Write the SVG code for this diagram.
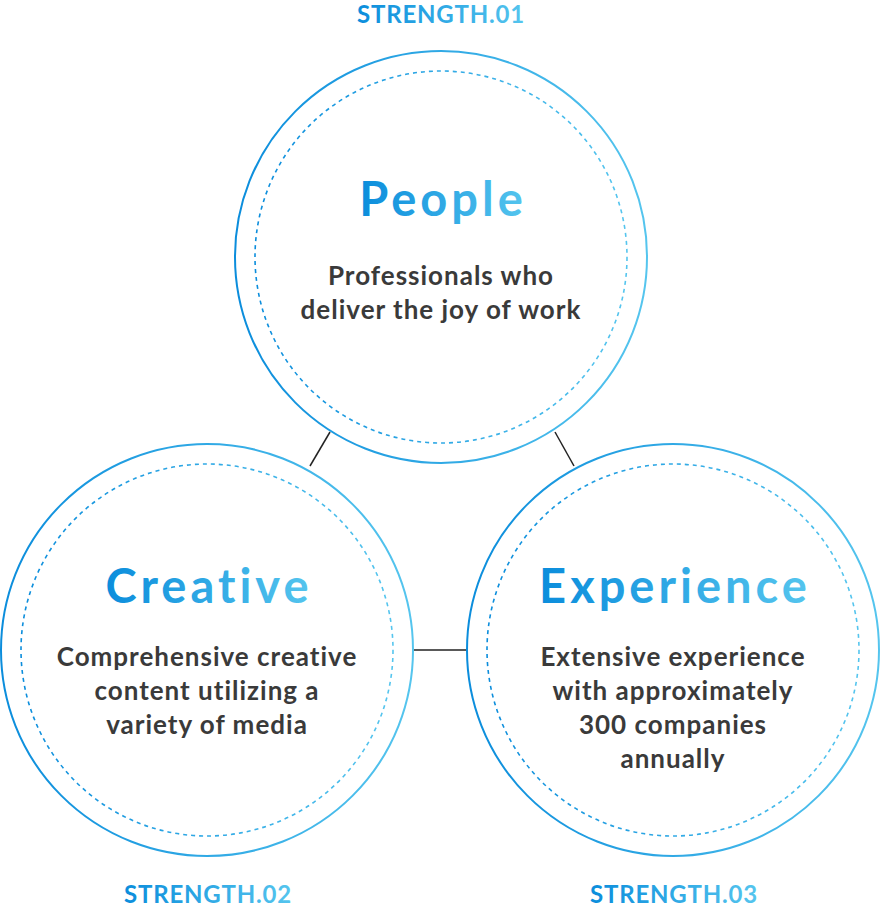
<svg xmlns="http://www.w3.org/2000/svg" width="880" height="907" viewBox="0 0 880 907">
<defs>
<linearGradient id="g" x1="0" y1="0" x2="1" y2="0"><stop offset="0" stop-color="#0b8ddc"/><stop offset="1" stop-color="#55c5ee"/></linearGradient>
<style>
.o{fill:#fff;stroke:url(#g);stroke-width:2}
.i{fill:none;stroke:url(#g);stroke-width:1.6;stroke-dasharray:4 4}
.t{font-family:"Lato","Noto Sans",sans-serif;font-weight:700;font-size:47px;fill:url(#g);text-anchor:middle;letter-spacing:4px}
.s{font-family:"Lato","Noto Sans",sans-serif;font-weight:700;font-size:24px;fill:url(#g);text-anchor:middle;letter-spacing:0.8px}
.d{font-family:"Lato","Noto Sans",sans-serif;font-weight:700;font-size:26px;fill:#3a3a3a;text-anchor:middle;letter-spacing:1px}
</style>
</defs>
<g id="connectors" stroke="#222" stroke-width="1.5">
<line x1="310" y1="466" x2="330" y2="432"/>
<line x1="555" y1="432" x2="574" y2="466"/>
<line x1="413" y1="650" x2="467" y2="650"/>
</g>
<g id="people">
<text class="s" x="441" y="23">STRENGTH.01</text>
<circle class="o" cx="441" cy="257" r="206"/>
<circle class="i" cx="441" cy="257" r="186"/>
<text class="t" x="443" y="216">People</text>
<text class="d" x="441" y="285">Professionals who</text>
<text class="d" x="441" y="319">deliver the joy of work</text>
</g>
<g id="creative">
<circle class="o" cx="207" cy="650" r="206"/>
<circle class="i" cx="207" cy="650" r="186"/>
<text class="t" x="209" y="603">Creative</text>
<text class="d" x="207" y="666">Comprehensive creative</text>
<text class="d" x="207" y="700">content utilizing a</text>
<text class="d" x="207" y="734">variety of media</text>
<text class="s" x="208" y="903">STRENGTH.02</text>
</g>
<g id="experience">
<circle class="o" cx="673" cy="650" r="206"/>
<circle class="i" cx="673" cy="650" r="186"/>
<text class="t" x="675" y="603">Experience</text>
<text class="d" x="673" y="666">Extensive experience</text>
<text class="d" x="673" y="700">with approximately</text>
<text class="d" x="673" y="734">300 companies</text>
<text class="d" x="673" y="768">annually</text>
<text class="s" x="674" y="903">STRENGTH.03</text>
</g>
</svg>
